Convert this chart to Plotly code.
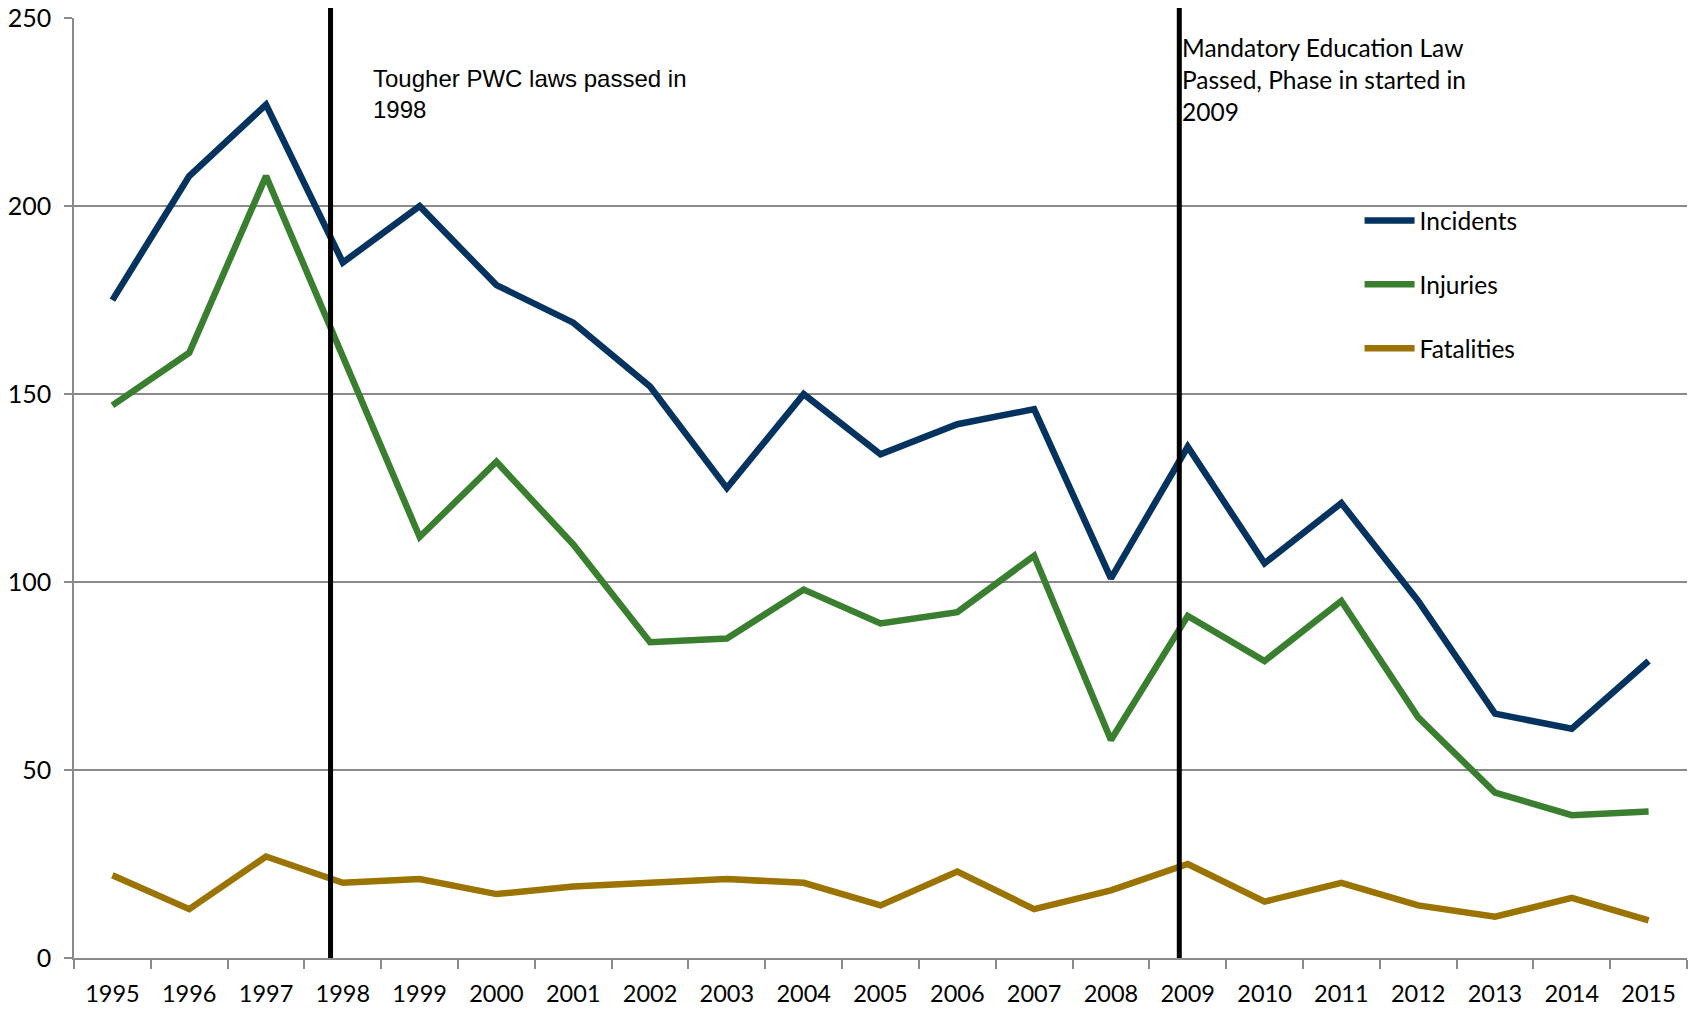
import plotly.graph_objects as go

years = [str(y) for y in range(1995, 2016)]
incidents = [175, 208, 227, 185, 200, 179, 169, 152, 125, 150, 134, 142, 146, 101, 136, 105, 121, 95, 65, 61, 79]
injuries = [147, 161, 208, 160, 112, 132, 110, 84, 85, 98, 89, 92, 107, 58, 91, 79, 95, 64, 44, 38, 39]
fatalities = [22, 13, 27, 20, 21, 17, 19, 20, 21, 20, 14, 23, 13, 18, 25, 15, 20, 14, 11, 16, 10]

series_names = ["Incidents", "Injuries", "Fatalities"]
series_values = [incidents, injuries, fatalities]
series_colors = ["#05335F", "#3A7F2F", "#9B7300"]

y_ticks = [0, 50, 100, 150, 200, 250]

# event markers (category-index positions) and their notes
event_positions = [2.84, 13.89]
event_notes = [
    ("Tougher PWC laws passed in<br>1998", 3.37, 238, "Liberation Sans, Arial, sans-serif", 24),
    ("Mandatory Education Law<br>Passed, Phase in started in<br>2009", 13.9, 246.6, "Lato, sans-serif", 24.5),
]

fig = go.Figure()
for i, (name, vals, col) in enumerate(zip(series_names, series_values, series_colors)):
    fig.add_trace(go.Scatter(
        x=years, y=vals, name=name, mode="lines",
        line=dict(color=col, width=6.5),
        legendgroup=f"g{i}",
    ))

for xp in event_positions:
    fig.add_shape(type="line", xref="x", yref="paper", x0=xp, x1=xp, y0=0, y1=1.014,
                  line=dict(color="black", width=5), layer="above")

for text, xp, yp, fam, fs in event_notes:
    fig.add_annotation(text=text, xref="x", yref="y", x=xp, y=yp,
                       xanchor="left", yanchor="top", align="left", showarrow=False,
                       font=dict(family=fam, size=fs, color="black"))

grey = "#8A8A8A"
# page body has an 8px default margin, so the figure is 8px smaller and margins shifted
fig.update_layout(
    width=1690, height=1001,
    margin=dict(l=66, r=11, t=10, b=51),
    paper_bgcolor="white", plot_bgcolor="white",
    font=dict(family="Lato, sans-serif", size=23, color="black"),
    showlegend=True,
    legend=dict(x=0.797, y=0.8085, xanchor="left", yanchor="top",
                font=dict(family="Lato, sans-serif", size=24.5, color="black"),
                tracegroupgap=29, itemwidth=50, bgcolor="rgba(0,0,0,0)"),
    xaxis=dict(type="category", tickson="boundaries", ticks="outside", ticklen=9,
               tickcolor=grey, tickwidth=1.5, showline=True, linecolor=grey, linewidth=1.5,
               showgrid=False, automargin=False, ticklabelstandoff=14,
               tickfont=dict(family="Lato, sans-serif", size=23.5, color="black"),
               range=[-0.5, 20.5]),
    yaxis=dict(range=[0, 250.05], tickmode="array", tickvals=y_ticks,
               ticktext=[str(v) for v in y_ticks], ticks="outside", ticklen=8, tickcolor=grey,
               tickwidth=1.5, showline=True, linecolor=grey, linewidth=1.5,
               showgrid=True, gridcolor=grey, gridwidth=1.5, zeroline=False,
               automargin=False, ticklabelstandoff=8, ticklabeloverflow="allow",
               tickfont=dict(family="Lato, sans-serif", size=25, color="black")),
)

fig.write_html("out.html")
